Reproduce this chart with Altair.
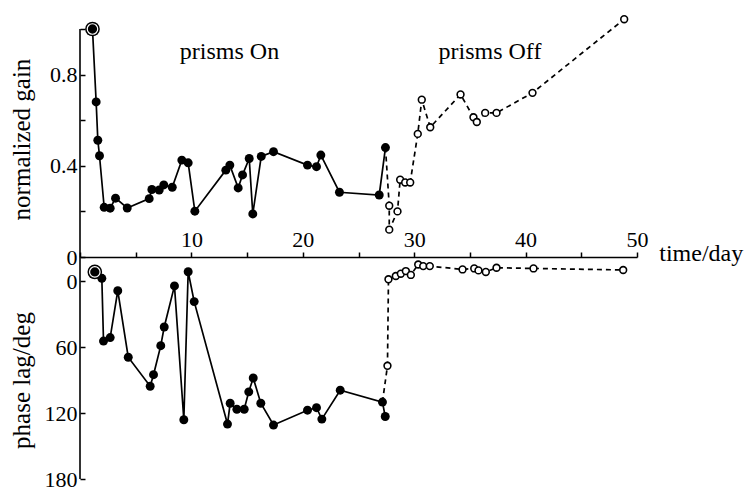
import altair as alt
import pandas as pd

# ---------------- data ----------------
# top panel: normalized gain
gain_on_day = [1.12, 1.45, 1.60, 1.75, 2.17, 2.71, 3.19, 4.24, 6.21, 6.45, 7.11, 7.52, 8.28,
               9.14, 9.71, 10.31, 13.09, 13.45, 14.20, 14.59, 15.19, 15.51, 16.27, 17.37,
               20.42, 21.23, 21.62, 23.29, 26.86, 27.42]
gain_on = [1.0, 0.68, 0.512, 0.444, 0.218, 0.214, 0.258, 0.215, 0.256, 0.296, 0.294, 0.316, 0.306,
           0.425, 0.413, 0.201, 0.381, 0.403, 0.303, 0.36, 0.432, 0.189, 0.441, 0.462,
           0.403, 0.396, 0.447, 0.284, 0.272, 0.48]
gain_off_day = [27.76, 27.76, 28.50, 28.74, 29.19, 29.64, 30.32, 30.68, 31.44, 34.16, 35.32,
                35.62, 36.37, 37.39, 40.62, 48.85]
gain_off = [0.225, 0.12, 0.20, 0.339, 0.327, 0.327, 0.54, 0.69, 0.569, 0.713, 0.613,
            0.592, 0.632, 0.632, 0.72, 1.043]
gain_dash_start = 29   # index of the filled point where the dashed line begins

# bottom panel: phase lag
phase_on_day = [1.33, 1.96, 2.11, 2.71, 3.39, 4.33, 6.30, 6.60, 7.25, 7.56, 8.48, 9.32, 9.71,
                10.25, 13.24, 13.48, 14.08, 14.74, 15.15, 15.55, 16.23, 17.37, 20.42, 21.23,
                21.71, 23.36, 27.15, 27.40]
phase_on = [-8.4, -2.6, 54.5, 51.3, 8.7, 69.2, 95.6, 85.1, 58.7, 41.7, 4.3, 126.1, -8.6,
            18.6, 130.0, 111.1, 116.5, 116.5, 100.7, 88.1, 111.1, 130.9, 117.4, 115.1,
            125.5, 99.2, 110.0, 123.1]
phase_off_day = [27.60, 27.69, 28.35, 28.80, 29.25, 29.70, 30.36, 30.81, 31.40, 34.34, 35.39,
                 35.77, 36.43, 37.39, 40.71, 48.76]
phase_off = [77.0, -1.7, -4.7, -6.8, -9.2, -5.7, -15.2, -13.7, -13.7, -10.7, -11.6,
             -9.8, -8.4, -12.2, -11.6, -10.2]
phase_dash_start = 26

x_ticks = [0, 5, 10, 15, 20, 25, 30, 35, 40, 45, 50]
gain_ticks = [0, 0.2, 0.4, 0.6, 0.8, 1.0]
phase_ticks = [0, 60, 120, 180]

notes_top = ["prisms On", "prisms Off"]
notes_top_day = [13.42, 36.8]
notes_top_val = [0.868, 0.868]
note_bottom = ["time/day"]
note_bottom_day = [52.0]
note_bottom_val = [-18.8]

# ---------------- styling ----------------
FONT = "Liberation Serif"
W, H1, H2 = 557, 228, 222
LW = 1.7

x_scale = alt.Scale(domain=[0, 50], nice=False, zero=False)
s_gain = alt.Scale(domain=[0, 1.0], nice=False, zero=False)
s_phase = alt.Scale(domain=[-22, 180], reverse=True, nice=False, zero=False)


def panel(on_day, on_val, off_day, off_val, start, yscale, yaxis, xaxis, dom, texts, h):
    on = pd.DataFrame({"day": on_day, "v": on_val, "i": range(len(on_day))})
    dash = pd.DataFrame({"day": [on_day[start]] + off_day, "v": [on_val[start]] + off_val})
    dash["i"] = range(len(dash))
    off = pd.DataFrame({"day": off_day, "v": off_val})
    first = on.iloc[[0]]

    x_default = None if xaxis is None else alt.Undefined

    def X(ax=x_default):
        return alt.X("day:Q", scale=x_scale, axis=ax)

    def Y(ax=alt.Undefined):
        return alt.Y("v:Q", scale=yscale, axis=ax)

    domain = alt.Chart(pd.DataFrame({"v": [dom[0]], "v2": [dom[1]], "day": [0]})).mark_rule(
        color="black", strokeWidth=1.6
    ).encode(x=X(xaxis), y=Y(yaxis), y2="v2:Q")

    solid = alt.Chart(on).mark_line(color="black", strokeWidth=LW).encode(
        x=X(), y=Y(), order="i:Q")
    dashed = alt.Chart(dash).mark_line(color="black", strokeWidth=LW, strokeDash=[5, 4]).encode(
        x=X(), y=Y(), order="i:Q")
    filled = alt.Chart(on.iloc[1:]).mark_point(
        shape="circle", filled=True, color="black", size=80, opacity=1).encode(x=X(), y=Y())
    opened = alt.Chart(off).mark_point(
        shape="circle", filled=True, fill="white", stroke="black", strokeWidth=1.6,
        size=46, opacity=1).encode(x=X(), y=Y())
    big = alt.Chart(first).mark_point(
        shape="circle", filled=True, color="black", size=215, opacity=1).encode(x=X(), y=Y())
    ring = alt.Chart(first).mark_point(
        shape="circle", filled=False, stroke="white", strokeWidth=1.2,
        size=110, opacity=1).encode(x=X(), y=Y())
    txt = alt.Chart(texts).mark_text(
        font=FONT, fontSize=24, color="black", align=texts["align"].iloc[0],
        baseline="alphabetic").encode(x=X(), y=Y(), text="t:N")

    return alt.layer(domain, solid, dashed, filled, opened, big, ring, txt).properties(
        width=W, height=h)


common_y = dict(
    domain=False, grid=False, tickSize=5, tickWidth=1.5, tickColor="black",
    offset=-5, labelFont=FONT, labelFontSize=22, labelColor="black", labelPadding=3,
    labelBaseline="middle", labelFlush=False, labelOverlap=False,
    titleFont=FONT, titleFontSize=25, titleFontWeight="normal", titleColor="black",
    titleAngle=-90, titleAlign="center", titleBaseline="middle",
)

y_gain_axis = alt.Axis(
    values=gain_ticks, title="normalized gain", titleX=-64, titleY=110,
    labelExpr="datum.value < 0.01 ? '0' : ((abs(datum.value - 0.4) < 0.01 || abs(datum.value - 0.8) < 0.01) ? format(datum.value, '.1f') : '')",
    **common_y)
y_phase_axis = alt.Axis(
    values=phase_ticks, title="phase lag/deg", titleX=-64, titleY=123, **common_y)

x_axis = alt.Axis(
    orient="top", values=x_ticks, title=None, grid=False,
    domain=True, domainColor="black", domainWidth=1.6,
    tickSize=5, tickWidth=1.5, tickColor="black",
    labelFont=FONT, labelFontSize=22, labelColor="black", labelPadding=1,
    labelFlush=False, labelOverlap=False,
    labelExpr="(datum.value % 10 == 0 && datum.value > 0) ? datum.label : ''",
)

texts_top = pd.DataFrame({"t": notes_top, "day": notes_top_day, "v": notes_top_val,
                          "align": ["center", "center"]})
texts_bot = pd.DataFrame({"t": note_bottom, "day": note_bottom_day, "v": note_bottom_val,
                          "align": ["left"]})

top = panel(gain_on_day, gain_on, gain_off_day, gain_off, gain_dash_start, s_gain,
            y_gain_axis, None, [0, 1.0], texts_top, H1)
bottom = panel(phase_on_day, phase_on, phase_off_day, phase_off, phase_dash_start, s_phase,
               y_phase_axis, x_axis, [-22, 180], texts_bot, H2)

chart = alt.vconcat(top, bottom, spacing=0, bounds="flush").properties(
    padding={"left": 0, "top": 4, "right": 0, "bottom": 0},
    background="white",
).configure_view(stroke=None)

chart.save("out.html", embed_options={"renderer": "svg", "actions": False})
